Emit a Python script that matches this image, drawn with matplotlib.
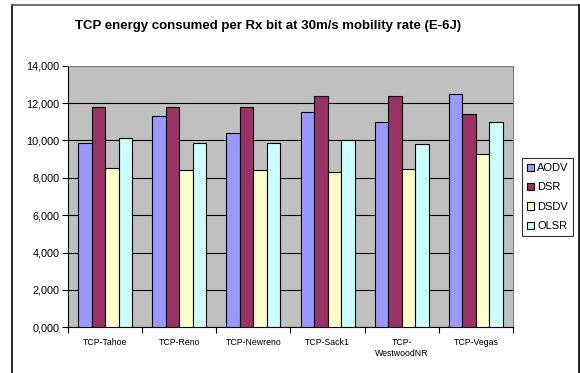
import matplotlib
matplotlib.use("Agg")
import matplotlib.pyplot as plt
import numpy as np
from matplotlib.lines import Line2D

categories = ["TCP-Tahoe", "TCP-Reno", "TCP-Newreno", "TCP-Sack1", "TCP-\nWestwoodNR", "TCP-Vegas"]
series_names = ["AODV", "DSR", "DSDV", "OLSR"]
aodv = [9850, 11300, 10380, 11500, 11000, 12500]
dsr = [11800, 11800, 11800, 12400, 12400, 11400]
dsdv = [8500, 8400, 8400, 8300, 8450, 9300]
olsr = [10150, 9850, 9850, 10050, 9830, 11000]
yticks = [0, 2000, 4000, 6000, 8000, 10000, 12000, 14000]
ytick_labels = ["0,000", "2,000", "4,000", "6,000", "8,000", "10,000", "12,000", "14,000"]
colors = ["#9999FF", "#993366", "#FFFFCC", "#CCFFFF"]

plt.rcParams['font.family'] = ['Liberation Sans', 'DejaVu Sans']

fig = plt.figure(figsize=(5.8, 3.73), dpi=100)
fig.patch.set_facecolor("white")
ax = fig.add_axes([68/580, 1-327.3/373, 445/580, (327.3-65.7)/373])
ax.set_facecolor("#C0C0C0")

x = np.arange(len(categories))
bw = 0.182
data = [aodv, dsr, dsdv, olsr]
for i, (vals, c, n) in enumerate(zip(data, colors, series_names)):
    ax.bar(x + (i - 1.5) * bw, vals, width=bw, color=c, edgecolor="black",
           linewidth=0.8, label=n, zorder=3)

ax.set_xlim(-0.5, len(categories) - 0.5)
ax.set_ylim(0, 14000)
ax.set_yticks(yticks)
ax.set_yticklabels(ytick_labels, fontsize=7.8)
ax.yaxis.grid(True, color="black", linewidth=0.8, zorder=1)
ax.set_axisbelow(True)

ax.set_xticks(x)
ax.set_xticklabels(categories, fontsize=6.3)
ax.tick_params(axis="x", length=0, pad=8)
ax.set_xticks(np.arange(-0.5, len(categories) + 0.5, 1), minor=True)
ax.tick_params(axis="x", which="minor", length=4, width=0.8, direction="out", color="black")
ax.tick_params(axis="y", length=4, width=0.8, direction="out", pad=2)

for s in ["top", "right"]:
    ax.spines[s].set_color("#808080")
    ax.spines[s].set_linewidth(0.8)
for s in ["left", "bottom"]:
    ax.spines[s].set_color("black")
    ax.spines[s].set_linewidth(0.8)

fig.text(268/580, 1-26/373, "TCP energy consumed per Rx bit at 30m/s mobility rate (E-6J)",
         ha="center", va="center", fontsize=9.5, fontweight="bold")

leg = fig.legend(loc="upper left", bbox_to_anchor=(522/580, 1-158/373),
                 fontsize=8, frameon=True, fancybox=False, handlelength=0.6,
                 handleheight=0.6, handletextpad=0.3, borderpad=0.45,
                 labelspacing=0.85, borderaxespad=0)
leg.get_frame().set_edgecolor("black")
leg.get_frame().set_linewidth(0.8)

# outer chart border
fig.add_artist(Line2D([12/580, 12/580], [0, 1-5/373], color="black", lw=1.2, transform=fig.transFigure))
fig.add_artist(Line2D([12/580, 579/580], [1-5/373, 1-5/373], color="#555555", lw=1.2, transform=fig.transFigure))
fig.add_artist(Line2D([579/580, 579/580], [0, 1-5/373], color="black", lw=1.2, transform=fig.transFigure))

fig.savefig("out.png", dpi=100)
